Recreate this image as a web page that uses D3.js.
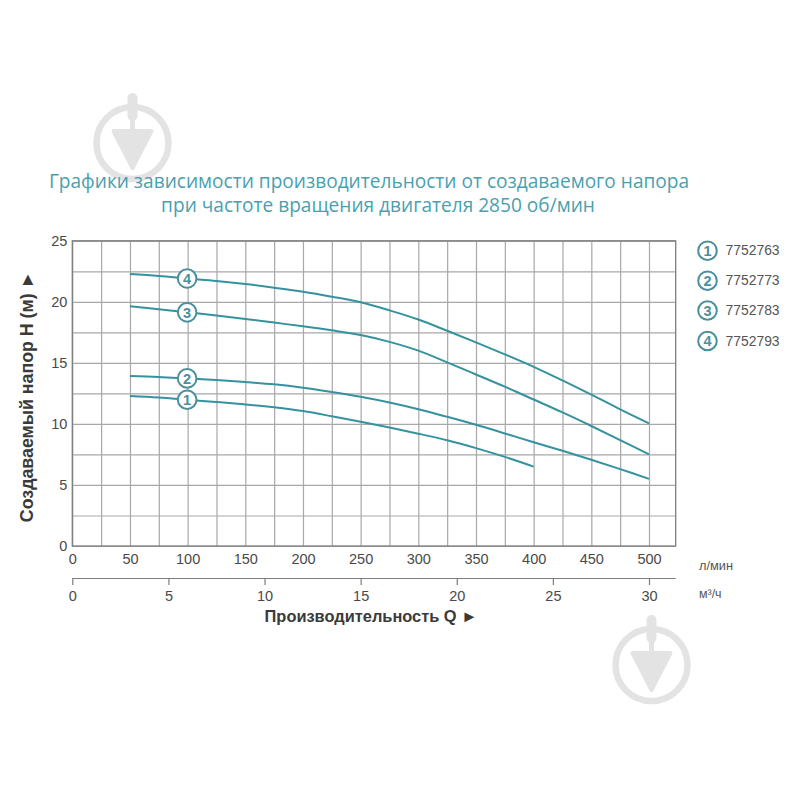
<!DOCTYPE html>
<html><head><meta charset="utf-8">
<script src="https://cdn.jsdelivr.net/npm/d3@7/dist/d3.min.js"></script>
<style>html,body{margin:0;padding:0;background:#fff}svg{display:block}
text{font-family:"Liberation Sans",Arial,sans-serif}</style></head>
<body><svg id="c" width="799" height="799"></svg>
<script>
const titleLines = ["Графики зависимости производительности от создаваемого напора","при частоте вращения двигателя 2850 об/мин"];
const yLabel = "Создаваемый напор H (м) ►";
const xLabel = "Производительность Q ►";
const unitLpm = "л/мин";
const unitM3h = "м³/ч";
const flow = [50,75,100,125,150,175,200,225,250,275,300,325,350,375,400,425,450,475,500];
const curve1 = [12.29,12.17,11.98,11.79,11.6,11.36,11.05,10.63,10.18,9.7,9.2,8.66,8.02,7.3,6.5];
const curve2 = [13.93,13.84,13.73,13.6,13.43,13.24,12.97,12.62,12.22,11.75,11.2,10.58,9.93,9.22,8.5,7.8,7.07,6.3,5.5];
const curve3 = [19.64,19.39,19.14,18.88,18.6,18.3,18.0,17.67,17.28,16.72,16.0,15.04,14.05,13.05,12.0,10.94,9.83,8.68,7.5];
const curve4 = [22.28,22.12,21.91,21.71,21.46,21.16,20.83,20.42,19.96,19.3,18.55,17.63,16.68,15.7,14.68,13.56,12.4,11.2,10.04];
const curveIds = ["1","2","3","4"];
const models = ["7752763","7752773","7752783","7752793"];
const lpmTicks = [0,50,100,150,200,250,300,350,400,450,500];
const m3hTicks = [0,5,10,15,20,25,30];
const headTicks = [0,5,10,15,20,25];
const gridX = d3.range(0,501,25);
const gridY = d3.range(0,25.1,2.5);

const teal="#35929f", ring="#4b8f9b", labelCol="#4a4a4a", gridCol="#a8a8a8", wm="#e3e3e3";
const L=72.3,R=675.7,T=240.8,B=546;
const svg=d3.select("#c");
const x=d3.scaleLinear().domain([0,(R-L)/((649-L)/500)]).range([L,R]);
const x2=d3.scaleLinear().domain([0,30]).range([L,649]);
const y=d3.scaleLinear().domain([0,25]).range([B,T]);

function watermark(cx,cy){
  const g=svg.append("g").attr("fill",wm).attr("stroke",wm);
  g.append("circle").attr("cx",cx).attr("cy",cy).attr("r",36).attr("fill","none").attr("stroke-width",6.5);
  g.append("line").attr("x1",cx).attr("x2",cx).attr("y1",cy-45).attr("y2",cy-27).attr("stroke-width",10).attr("stroke-linecap","round");
  g.append("line").attr("x1",cx).attr("x2",cx).attr("y1",cy-27).attr("y2",cy-12).attr("stroke-width",5);
  g.append("path").attr("d",`M${cx-19},${cy-12}H${cx+19}L${cx},${cy+25}Z`).attr("stroke-width",4).attr("stroke-linejoin","round");
}
watermark(132.5,143);
watermark(651.5,665);

svg.append("g").selectAll("text").data(titleLines).join("text")
  .attr("x",(d,i)=>i?378:369).attr("y",(d,i)=>188+i*23.5).attr("text-anchor","middle")
  .style("font-family","'Open Sans'").style("font-size","19.1px").attr("fill","#4a9fb0").text(d=>d);

// grid
svg.append("g").attr("transform",`translate(0,${B})`)
  .call(d3.axisBottom(x).tickValues(gridX).tickSize(-(B-T)).tickFormat(""))
  .call(g=>{g.select(".domain").remove();g.selectAll("line").attr("stroke",gridCol).attr("stroke-width",1.2)});
svg.append("g").attr("transform",`translate(${L},0)`)
  .call(d3.axisLeft(y).tickValues(gridY).tickSize(-(R-L)).tickFormat(""))
  .call(g=>{g.select(".domain").remove();g.selectAll("line").attr("stroke",gridCol).attr("stroke-width",1.2)});
svg.append("rect").attr("x",L).attr("y",T).attr("width",R-L).attr("height",B-T)
  .attr("fill","none").attr("stroke","#7d7d7d").attr("stroke-width",1.3);

// tick labels
function styleTicks(g){g.selectAll("text").attr("fill",labelCol).style("font-size","14.5px").style("font-family","'Liberation Sans'");}
svg.append("g").attr("transform",`translate(0,${B})`)
  .call(d3.axisBottom(x).tickValues(lpmTicks).tickSize(0).tickPadding(8))
  .call(g=>g.select(".domain").remove()).call(styleTicks);
svg.append("g").attr("transform",`translate(${L-5},0)`)
  .call(d3.axisLeft(y).tickValues(headTicks).tickSize(0).tickPadding(0))
  .call(g=>g.select(".domain").remove()).call(styleTicks);
const ax2=svg.append("g").attr("transform","translate(0,578)")
  .call(d3.axisBottom(x2).tickValues(m3hTicks).tickSize(7).tickPadding(6).tickSizeOuter(0))
  .call(styleTicks);
ax2.select(".domain").attr("d",`M${L},0.5H${R}`).attr("stroke","#7d7d7d").attr("stroke-width",1.2);
ax2.selectAll("line").attr("stroke","#7d7d7d").attr("stroke-width",1.2);

// curves
const series=[curve1,curve2,curve3,curve4];
const line=d3.line().x((d,i)=>x(flow[i])).y(d=>y(d)).curve(d3.curveCatmullRom.alpha(0.5));
svg.append("g").selectAll("path").data(series).join("path")
  .attr("d",line).attr("fill","none").attr("stroke",teal).attr("stroke-width",2);

function badge(sel,cx,cy,t,fill){
  sel.append("circle").attr("cx",cx).attr("cy",cy).attr("r",9.3).attr("fill",fill).attr("stroke",ring).attr("stroke-width",2);
  sel.append("text").attr("x",cx).attr("y",cy+5.2).attr("text-anchor","middle")
    .style("font-size","14.5px").style("font-weight","bold").attr("fill",ring).text(t);
}
const idx100=flow.indexOf(100);
series.forEach((s,i)=>badge(svg.append("g"),x(100)-0.5,y(s[idx100]),curveIds[i],"#fff"));

// legend
models.forEach((m,i)=>{
  const ly=[250.7,280.7,310.5,341][i];
  badge(svg.append("g"),707.5,ly,curveIds[i],"none");
  svg.append("text").attr("x",725.5).attr("y",ly+4.5).style("font-size","13.9px").attr("fill","#555").text(m);
});

// axis titles and units
svg.append("text").attr("transform","translate(33,396.5) rotate(-90)").attr("text-anchor","middle")
  .style("font-size","17.8px").style("font-weight","bold").attr("fill","#3a3a3a").text(yLabel);
svg.append("text").attr("x",371).attr("y",621.5).attr("text-anchor","middle")
  .style("font-size","16.4px").style("font-weight","bold").attr("fill","#3a3a3a").text(xLabel);
svg.append("text").attr("x",699).attr("y",570).style("font-size","12.8px").attr("fill","#555").text(unitLpm);
svg.append("text").attr("x",699).attr("y",598).style("font-size","12.4px").attr("fill","#555").text(unitM3h);
</script></body></html>
